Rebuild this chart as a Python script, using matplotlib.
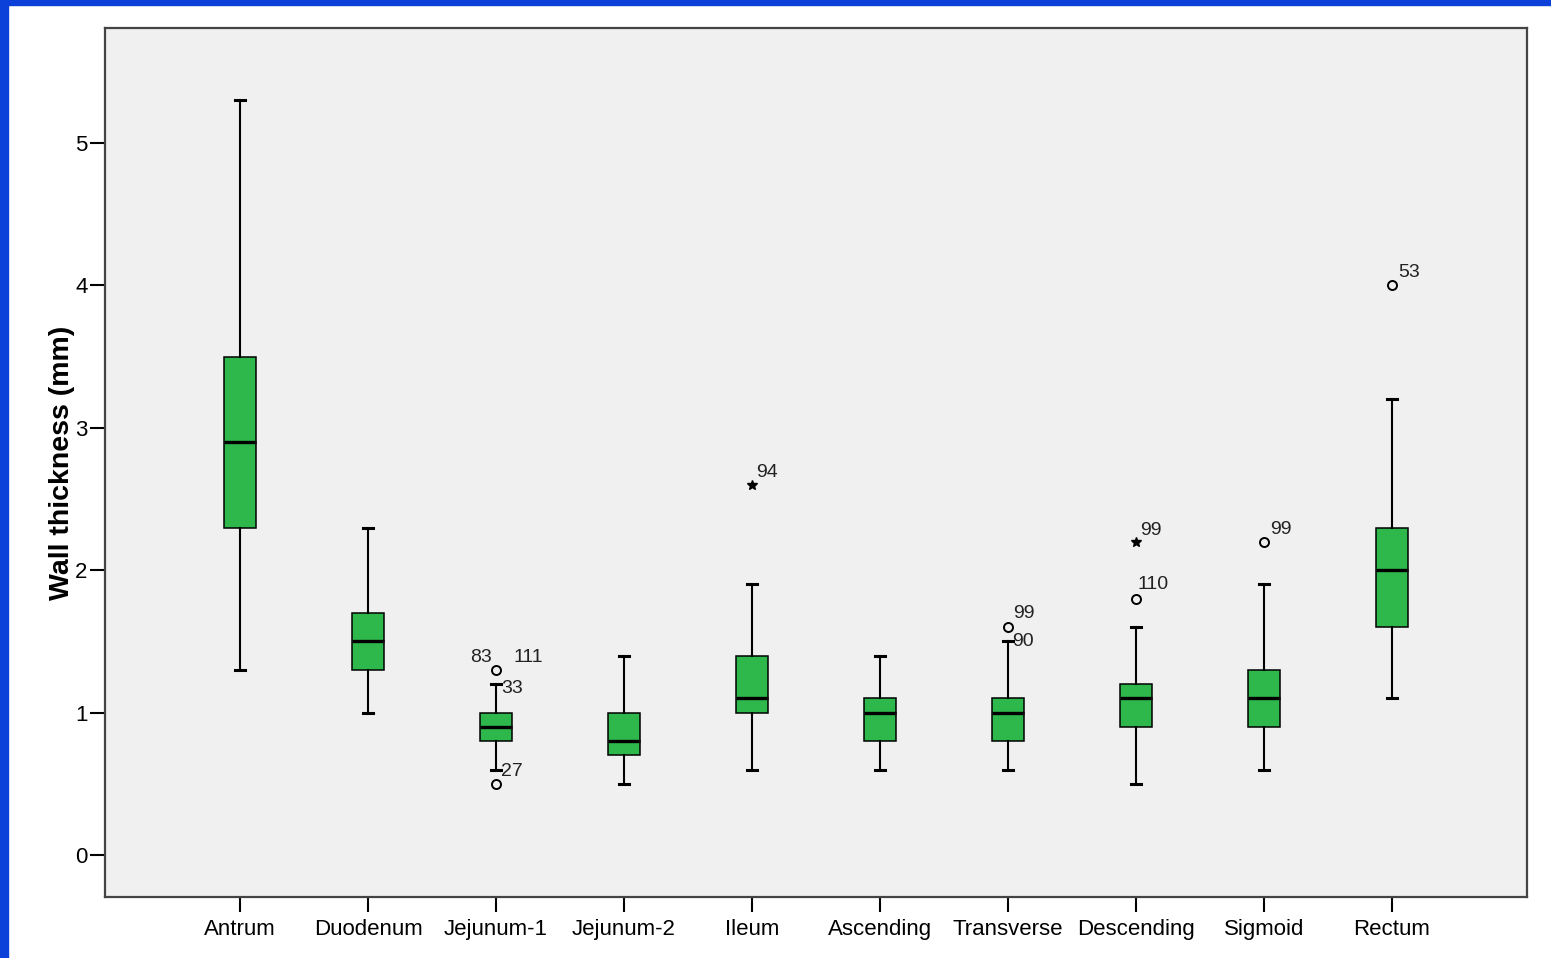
import matplotlib.pyplot as plt
from matplotlib.patches import Rectangle

plt.rcParams['font.family'] = ['Liberation Sans', 'DejaVu Sans']

categories = ['Antrum', 'Duodenum', 'Jejunum-1', 'Jejunum-2', 'Ileum',
              'Ascending', 'Transverse', 'Descending', 'Sigmoid', 'Rectum']
whislo = [1.3, 1.0, 0.6, 0.5, 0.6, 0.6, 0.6, 0.5, 0.6, 1.1]
q1 = [2.3, 1.3, 0.8, 0.7, 1.0, 0.8, 0.8, 0.9, 0.9, 1.6]
med = [2.9, 1.5, 0.9, 0.8, 1.1, 1.0, 1.0, 1.1, 1.1, 2.0]
q3 = [3.5, 1.7, 1.0, 1.0, 1.4, 1.1, 1.1, 1.2, 1.3, 2.3]
whishi = [5.3, 2.3, 1.2, 1.4, 1.9, 1.4, 1.5, 1.6, 1.9, 3.2]

# outliers (o) and extremes (*)
out_idx = [2, 2, 6, 7, 8, 9]
out_val = [1.3, 0.5, 1.6, 1.8, 2.2, 4.0]
ext_idx = [4, 7]
ext_val = [2.6, 2.2]

# case labels: group, value, text, dx px, dy px, ha, va
case_labels = [
    (2, 1.3, '83', -4, 8, 'right', 'baseline'),
    (2, 1.3, '111', 17, 8, 'left', 'baseline'),
    (2, 1.2, '33', 5, -4, 'left', 'center'),
    (2, 0.5, '27', 5, 8, 'left', 'baseline'),
    (4, 2.6, '94', 4, 8, 'left', 'baseline'),
    (6, 1.6, '99', 5, 9, 'left', 'baseline'),
    (6, 1.5, '90', 4, 0, 'left', 'center'),
    (7, 2.2, '99', 4, 7, 'left', 'baseline'),
    (7, 1.8, '110', 2, 10, 'left', 'baseline'),
    (8, 2.2, '99', 6, 8, 'left', 'baseline'),
    (9, 4.0, '53', 6, 8, 'left', 'baseline'),
]

fig = plt.figure(figsize=(15.51, 9.58), dpi=100, facecolor='white')
# slide frame (blue strips on left and top)
fig.patches.append(Rectangle((0, 0), 8 / 1551, 1, transform=fig.transFigure,
                             color='#0b41d9', zorder=0))
fig.patches.append(Rectangle((0, 1 - 5 / 958), 1, 5 / 958, transform=fig.transFigure,
                             color='#0b41d9', zorder=0))

ax = fig.add_axes([105 / 1551, 61 / 958, 1422 / 1551, 869 / 958])
ax.set_facecolor('#f0f0f0')

stats = []
for i, name in enumerate(categories):
    stats.append({'label': name, 'whislo': whislo[i], 'q1': q1[i], 'med': med[i],
                  'q3': q3[i], 'whishi': whishi[i], 'fliers': []})

ax.bxp(stats, positions=range(len(categories)), widths=0.25, capwidths=0.08,
       patch_artist=True, showfliers=False,
       boxprops=dict(facecolor='#2eb84b', edgecolor='black', linewidth=1.1),
       medianprops=dict(color='black', linewidth=2.4),
       whiskerprops=dict(color='black', linewidth=1.5),
       capprops=dict(color='black', linewidth=2.2))

ax.plot(out_idx, out_val, 'o', markerfacecolor='none', markeredgecolor='black',
        markersize=6.5, markeredgewidth=1.4, zorder=5)
ax.plot(ext_idx, ext_val, '*', color='black', markersize=7, zorder=5)

for g, v, t, dx, dy, ha, va in case_labels:
    ax.annotate(t, (g, v), xytext=(dx * 0.72, dy * 0.72), textcoords='offset points',
                ha=ha, va=va, fontsize=14, color='#222222')

ax.set_xlim(-1.055, 10.055)
ax.set_ylim(-0.295, 5.808)
ax.set_yticks([0, 1, 2, 3, 4, 5])
ax.set_xticks(range(len(categories)))
ax.set_xticklabels(categories)
ax.tick_params(axis='both', direction='out', length=11, width=1.5, labelsize=16,
               colors='black')
ax.tick_params(axis='x', pad=5)
ax.tick_params(axis='y', pad=1.5)
ax.tick_params(top=False, right=False)
for s in ax.spines.values():
    s.set_color('#444444')
    s.set_linewidth(1.6)

ax.set_ylabel('Wall thickness (mm)', fontsize=20.5, fontweight='bold', labelpad=0)

fig.savefig('out.png', dpi=100, facecolor='white')
